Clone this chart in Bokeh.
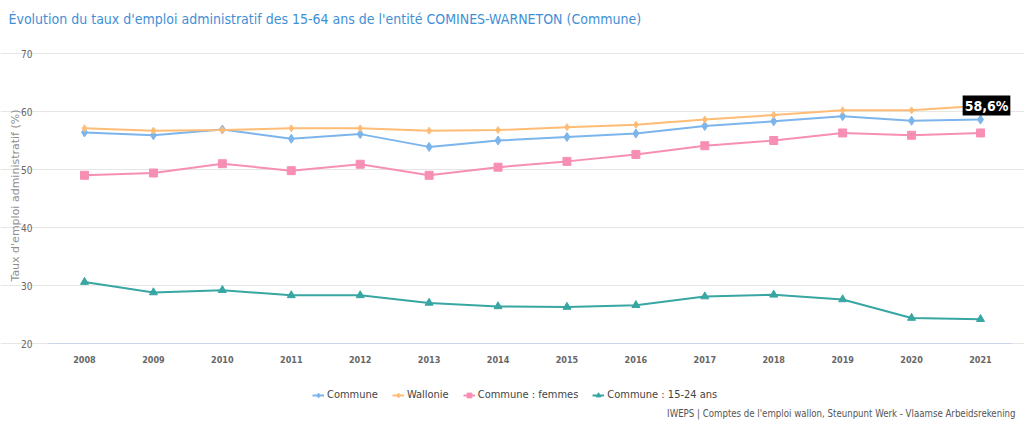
import math
from bokeh.plotting import figure
from bokeh.models import Label, Legend, LegendItem, FixedTicker, Range1d
from bokeh.embed import file_html
from bokeh.resources import INLINE

years = [2008, 2009, 2010, 2011, 2012, 2013, 2014, 2015, 2016, 2017, 2018, 2019, 2020, 2021]
commune = [56.4, 55.9, 56.9, 55.3, 56.1, 53.9, 55.0, 55.6, 56.2, 57.5, 58.3, 59.2, 58.4, 58.6]
wallonie = [57.1, 56.7, 56.8, 57.1, 57.1, 56.7, 56.8, 57.3, 57.7, 58.6, 59.4, 60.2, 60.2, 61.0]
femmes = [49.0, 49.4, 51.0, 49.8, 50.9, 49.0, 50.4, 51.4, 52.6, 54.1, 55.0, 56.3, 55.9, 56.3]
jeunes = [30.6, 28.8, 29.2, 28.3, 28.3, 27.0, 26.4, 26.3, 26.6, 28.1, 28.4, 27.6, 24.4, 24.2]

series_names = ["Commune", "Wallonie", "Commune : femmes", "Commune : 15-24 ans"]
series_values = [commune, wallonie, femmes, jeunes]
series_colors = ["#7cb5ec", "#ffbc75", "#f78fb5", "#38a6a2"]
series_markers = ["diamond", "diamond", "square", "triangle"]
marker_sizes = [9, 7, 8, 8]
y_ticks = [20, 30, 40, 50, 60, 70]

title_text = "Évolution du taux d'emploi administratif des 15-64 ans de l'entité COMINES-WARNETON (Commune)"
source_text = "IWEPS | Comptes de l'emploi wallon, Steunpunt Werk - Vlaamse Arbeidsrekening"
y_label = "Taux d'emploi administratif (%)"
last_label = "58,6%"

FONT = "'Liberation Sans Narrow', 'DejaVu Sans Condensed', 'Roboto Condensed', 'Roboto'"

# layout geometry (pixels) -> ranges
W, H = 1024, 427
PX_YEAR = 896 / 13.0
PX_UNIT = 290 / 50.0
X0 = years[0] - 84 / PX_YEAR
X1 = years[0] + (W - 84) / PX_YEAR
Y0 = 20 - (H - 343) / PX_UNIT
Y1 = 70 + 53 / PX_UNIT
AREA_L = years[0] - 36 / PX_YEAR
AREA_R = years[0] + 928 / PX_YEAR

p = figure(width=W, height=H, output_backend="svg", toolbar_location=None,
           x_range=Range1d(X0, X1), y_range=Range1d(Y0, Y1), min_border=0)
p.outline_line_color = None
p.background_fill_color = "white"
p.border_fill_color = "white"

items = []
for name, vals, col, mk, sz in zip(series_names, series_values, series_colors, series_markers, marker_sizes):
    r1 = p.line(years, vals, line_color=col, line_width=2)
    r2 = p.scatter(years, vals, marker=mk, size=sz, fill_color=col, line_color=col)
    items.append(LegendItem(label=name, renderers=[r1, r2]))

p.xaxis.ticker = FixedTicker(ticks=years)
p.yaxis.ticker = FixedTicker(ticks=y_ticks)
p.xaxis.fixed_location = 20
p.yaxis.fixed_location = AREA_L
p.xaxis.bounds = (AREA_L, AREA_R)
p.yaxis.bounds = (20, 70)
p.xgrid.grid_line_color = None
p.ygrid.grid_line_color = "#e6e6e6"
p.ygrid.bounds = (AREA_L, AREA_R)
p.xaxis.axis_line_color = "#ccd6eb"
p.xaxis.major_tick_line_color = None
p.xaxis.minor_tick_line_color = None
p.yaxis.axis_line_color = None
p.yaxis.major_tick_line_color = None
p.yaxis.minor_tick_line_color = None
for ax in (p.xaxis, p.yaxis):
    ax.major_label_text_font = FONT
    ax.major_label_text_color = "#666666"
p.xaxis.major_label_text_font_size = "9px"
p.xaxis.major_label_text_font_style = "bold"
p.yaxis.major_label_text_font_size = "10px"
p.xaxis.major_label_standoff = 6
p.yaxis.major_label_standoff = 10

legend = Legend(items=items, orientation="horizontal", location=(312, 26),
                label_text_font=FONT, label_text_font_size="11px", label_text_color="#444444",
                glyph_width=12, glyph_height=12, label_height=12, label_standoff=3, spacing=14,
                padding=2, margin=0, border_line_color=None, background_fill_alpha=0)
p.add_layout(legend, "center")

p.add_layout(Label(x=8, y=H - 18, x_units="screen", y_units="screen", text=title_text,
                   text_font=FONT, text_font_size="14px", text_color="#3f8fd6",
                   text_baseline="middle", text_align="left"))
p.add_layout(Label(x=15, y=H - 195, x_units="screen", y_units="screen", text=y_label,
                   angle=math.pi / 2, text_font="DejaVu Sans", text_font_size="11px",
                   text_color="#8f8f8f", text_baseline="middle", text_align="center"))
p.add_layout(Label(x=1015, y=14, x_units="screen", y_units="screen", text=source_text,
                   text_font=FONT, text_font_size="9.6px", text_color="#555555",
                   text_baseline="middle", text_align="right"))
p.add_layout(Label(x=years[-1], y=commune[-1], text=last_label, x_offset=6, y_offset=4,
                   text_font=FONT, text_font_size="14px", text_font_style="bold",
                   text_color="white", text_align="center", text_baseline="bottom",
                   background_fill_color="black", padding=2))

open("out.html", "w").write(file_html(p, INLINE))
